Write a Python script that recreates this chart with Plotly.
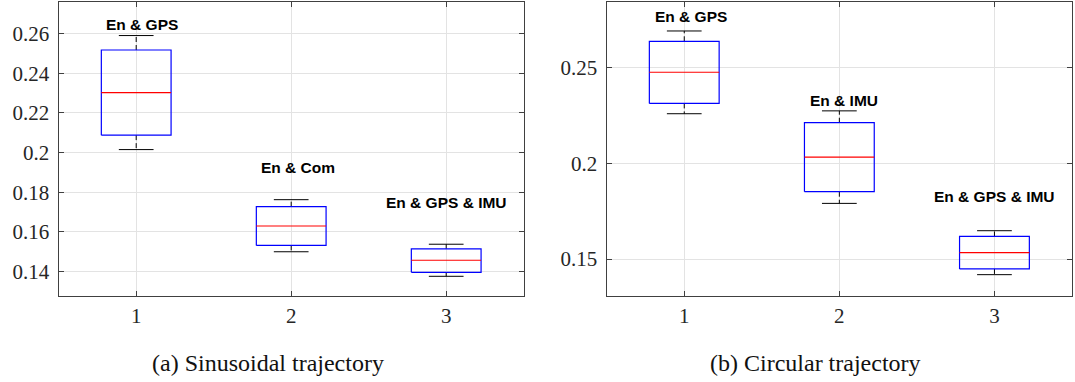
import plotly.graph_objects as go

# ---------------- data ----------------
positions = [1, 2, 3]

sin_lower = [0.2015, 0.1499, 0.1375]
sin_q1 = [0.2088, 0.1531, 0.1395]
sin_median = [0.2303, 0.1629, 0.1456]
sin_q3 = [0.2518, 0.1727, 0.1514]
sin_upper = [0.2591, 0.1762, 0.1537]
sin_labels = ["En & GPS", "En & Com", "En & GPS & IMU"]
sin_label_x = [1.04, 2.045, 3.0]
sin_label_y = [0.2648, 0.1923, 0.1748]

cir_lower = [0.2260, 0.1791, 0.1418]
cir_q1 = [0.2314, 0.1852, 0.1448]
cir_median = [0.2477, 0.2033, 0.1533]
cir_q3 = [0.2639, 0.2213, 0.1618]
cir_upper = [0.2693, 0.2275, 0.1648]
cir_labels = ["En & GPS", "En & IMU", "En & GPS & IMU"]
cir_label_x = [1.043, 2.027, 3.0]
cir_label_y = [0.2771, 0.2328, 0.1825]

x_ticks = [1, 2, 3]
x_ticktext = ["1", "2", "3"]
sin_yticks = [0.14, 0.16, 0.18, 0.2, 0.22, 0.24, 0.26]
sin_yticktext = ["0.14", "0.16", "0.18", "0.2", "0.22", "0.24", "0.26"]
cir_yticks = [0.15, 0.2, 0.25]
cir_yticktext = ["0.15", "0.2", "0.25"]

captions = ["(a) Sinusoidal trajectory", "(b) Circular trajectory"]

# ---------------- style ----------------
BOX_HALF = 0.225
CAP_HALF = 0.112
W, H = 1075, 382

fig = go.Figure()


def add_panel(xa, ya, lower, q1, med, q3, upper):
    wx, wy, cx, cy, bx, by, mx, my = [], [], [], [], [], [], [], []
    for p, lo, a, m, b, up in zip(positions, lower, q1, med, q3, upper):
        wx += [p, p, None, p, p, None]
        wy += [b, up, None, a, lo, None]
        cx += [p - CAP_HALF, p + CAP_HALF, None, p - CAP_HALF, p + CAP_HALF, None]
        cy += [up, up, None, lo, lo, None]
        bx += [p - BOX_HALF, p + BOX_HALF, p + BOX_HALF, p - BOX_HALF, p - BOX_HALF, None]
        by += [a, a, b, b, a, None]
        mx += [p - BOX_HALF, p + BOX_HALF, None]
        my += [m, m, None]
    common = dict(mode="lines", xaxis=xa, yaxis=ya, showlegend=False, hoverinfo="skip")
    fig.add_trace(go.Scatter(x=wx, y=wy, line=dict(color="black", width=1, dash="5px,3px"), **common))
    fig.add_trace(go.Scatter(x=cx, y=cy, line=dict(color="black", width=1), **common))
    fig.add_trace(go.Scatter(x=bx, y=by, line=dict(color="#0000ff", width=1.2), **common))
    fig.add_trace(go.Scatter(x=mx, y=my, line=dict(color="#ff0000", width=1.2), **common))


add_panel("x", "y", sin_lower, sin_q1, sin_median, sin_q3, sin_upper)
add_panel("x2", "y2", cir_lower, cir_q1, cir_median, cir_q3, cir_upper)

tickfont = dict(family="Liberation Serif", size=21, color="#262626")
axis_common = dict(
    showline=True, linecolor="#404040", linewidth=1.3, mirror="ticks",
    ticks="inside", ticklen=5, tickcolor="#404040", tickwidth=1,
    showgrid=True, gridcolor="#e3e3e3", gridwidth=1, zeroline=False,
    tickfont=tickfont, fixedrange=True,
)

ytop = 1 - 2.3 / H
ybot = 1 - 295.7 / H

fig.update_layout(
    width=W, height=H,
    margin=dict(l=0, r=0, t=0, b=0),
    paper_bgcolor="white", plot_bgcolor="white",
    xaxis=dict(domain=[58.7 / W, 523.7 / W], range=[0.5, 3.5], tickvals=x_ticks,
               ticktext=x_ticktext, anchor="y", ticklabelstandoff=1, **axis_common),
    yaxis=dict(domain=[ybot, ytop], range=[0.1277, 0.2759], tickvals=sin_yticks,
               ticktext=sin_yticktext, anchor="x", ticklabelstandoff=4, **axis_common),
    xaxis2=dict(domain=[606.7 / W, 1072 / W], range=[0.5, 3.5], tickvals=x_ticks,
                ticktext=x_ticktext, anchor="y2", ticklabelstandoff=1, **axis_common),
    yaxis2=dict(domain=[ybot, ytop], range=[0.1308, 0.2843], tickvals=cir_yticks,
                ticktext=cir_yticktext, anchor="x2", ticklabelstandoff=4, **axis_common),
)

ann_font = dict(family="Liberation Sans", size=15.5, color="black")
for t, x, y in zip(sin_labels, sin_label_x, sin_label_y):
    fig.add_annotation(x=x, y=y, xref="x", yref="y", text="<b>" + t + "</b>",
                       showarrow=False, font=ann_font, xanchor="center", yanchor="middle")
for t, x, y in zip(cir_labels, cir_label_x, cir_label_y):
    fig.add_annotation(x=x, y=y, xref="x2", yref="y2", text="<b>" + t + "</b>",
                       showarrow=False, font=ann_font, xanchor="center", yanchor="middle")

cap_font = dict(family="Liberation Serif", size=24, color="#111111")
for t, cxp in zip(captions, [267.5 / W, 815.5 / W]):
    fig.add_annotation(x=cxp, y=1 - 363 / H, xref="paper", yref="paper", text=t,
                       showarrow=False, font=cap_font, xanchor="center", yanchor="middle")

fig.write_html("out.html")
